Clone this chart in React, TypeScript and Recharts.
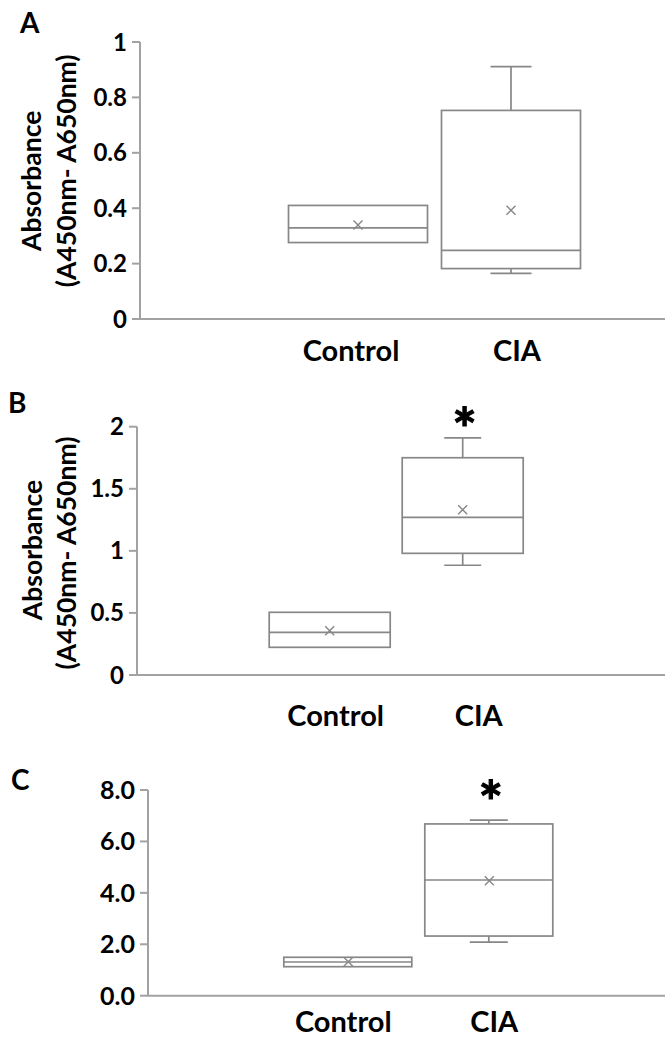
import React from 'react';
import { ComposedChart, Bar, Scatter, XAxis, YAxis } from 'recharts';

// ---------- data ----------
const categories = ['Control', 'CIA'];

// Panel A
const aMin = [0.276, 0.165];
const aQ1 = [0.276, 0.182];
const aMedian = [0.329, 0.248];
const aQ3 = [0.41, 0.753];
const aMax = [0.41, 0.911];
const aMean = [0.339, 0.393];
const aSig = ['', ''];
const aTicks = [0, 0.2, 0.4, 0.6, 0.8, 1];
const aTickLabels = ['0', '0.2', '0.4', '0.6', '0.8', '1'];

// Panel B
const bMin = [0.223, 0.884];
const bQ1 = [0.223, 0.98];
const bMedian = [0.344, 1.27];
const bQ3 = [0.505, 1.75];
const bMax = [0.505, 1.91];
const bMean = [0.357, 1.331];
const bSig = ['', '*'];
const bTicks = [0, 0.5, 1, 1.5, 2];
const bTickLabels = ['0', '0.5', '1', '1.5', '2'];

// Panel C
const cMin = [1.128, 2.08];
const cQ1 = [1.128, 2.32];
const cMedian = [1.311, 4.5];
const cQ3 = [1.494, 6.68];
const cMax = [1.494, 6.83];
const cMean = [1.32, 4.47];
const cSig = ['', '*'];
const cTicks = [0, 2, 4, 6, 8];
const cTickLabels = ['0.0', '2.0', '4.0', '6.0', '8.0'];

const yLabelLine1 = 'Absorbance';
const yLabelLine2 = '(A450nm- A650nm)';

// ---------- styles ----------
const FONT = 'Lato, "Open Sans", sans-serif';
const AXIS = '#a2a2a2';
const BOX = '#878787';

function buildRows(
  min: number[], q1: number[], med: number[], q3: number[], max: number[], mean: number[], sig: string[]
) {
  return categories.map((name, i) => ({
    name,
    min: min[i],
    q1: q1[i],
    median: med[i],
    q3: q3[i],
    max: max[i],
    mean: mean[i],
    range: [min[i], max[i]],
    sig: sig[i],
  }));
}

const BoxShape = (props: any) => {
  const { x, y, width, height, payload, capWidth, sigOffset } = props;
  if (!payload) return null;
  const top = Math.min(y, y + height);
  const h = Math.abs(height);
  const span = payload.max - payload.min;
  const toY = (v: number) => (span === 0 ? top : top + (h * (payload.max - v)) / span);
  const cx = x + width / 2;
  const yMax = toY(payload.max);
  const yQ3 = toY(payload.q3);
  const yMed = toY(payload.median);
  const yQ1 = toY(payload.q1);
  const yMin = toY(payload.min);
  return (
    <g>
      <g stroke={BOX} strokeWidth={1.7} fill="none">
        {payload.max > payload.q3 && (
          <g>
            <line x1={cx} x2={cx} y1={yMax} y2={yQ3} />
            <line x1={cx - capWidth / 2} x2={cx + capWidth / 2} y1={yMax} y2={yMax} />
          </g>
        )}
        {payload.min < payload.q1 && (
          <g>
            <line x1={cx} x2={cx} y1={yQ1} y2={yMin} />
            <line x1={cx - capWidth / 2} x2={cx + capWidth / 2} y1={yMin} y2={yMin} />
          </g>
        )}
        <rect x={x} y={yQ3} width={width} height={Math.max(0, yQ1 - yQ3)} fill="#ffffff" />
        <line x1={x} x2={x + width} y1={yMed} y2={yMed} />
      </g>
      {payload.sig ? (
        <text
          x={cx + 2}
          y={yMax - sigOffset}
          textAnchor="middle"
          fontFamily={FONT}
          fontWeight={700}
          fontSize={58}
          fill="#000"
          stroke="#000"
          strokeWidth={1}
        >
          {payload.sig}
        </text>
      ) : null}
    </g>
  );
};

const MeanShape = (props: any) => {
  const { cx, cy } = props;
  if (cx == null || cy == null) return null;
  const s = 4.5;
  return (
    <g stroke={BOX} strokeWidth={1.4}>
      <line x1={cx - s} y1={cy - s} x2={cx + s} y2={cy + s} />
      <line x1={cx - s} y1={cy + s} x2={cx + s} y2={cy - s} />
    </g>
  );
};

const CatTick = (props: any) => {
  const { x, y, payload, dy, dxs } = props;
  const idx = categories.indexOf(payload.value);
  return (
    <text
      x={x + (dxs[idx] ?? 0)}
      y={y + dy}
      textAnchor="middle"
      fontFamily={FONT}
      fontWeight={700}
      fontSize={29}
      fill="#000"
    >
      {payload.value}
    </text>
  );
};

type PanelProps = {
  top: number;
  height: number;
  rows: any[];
  ticks: number[];
  tickLabels: string[];
  yMaxV: number;
  marginTop: number;
  marginBottom: number;
  xAxisHeight: number;
  yAxisWidth: number;
  padL: number;
  padR: number;
  barSize: number;
  capWidth: number;
  catDy: number;
  catDxs: number[];
  sigOffset: number;
  tickFont: number;
  letter: string;
  letterPos: [number, number];
  yLabel?: { l1: [number, number]; l2: [number, number] };
};

function Panel(p: PanelProps) {
  return (
    <div style={{ position: 'absolute', left: 0, top: p.top, width: 665, height: p.height }}>
      <ComposedChart
        width={665}
        height={p.height}
        data={p.rows}
        margin={{ top: p.marginTop, right: 0, bottom: p.marginBottom, left: 0 }}
      >
        <XAxis
          dataKey="name"
          type="category"
          interval={0}
          height={p.xAxisHeight}
          padding={{ left: p.padL, right: p.padR }}
          axisLine={{ stroke: AXIS, strokeWidth: 2 }}
          tickLine={false}
          tickSize={0}
          tickMargin={0}
          tick={(tp: any) => <CatTick {...tp} dy={p.catDy} dxs={p.catDxs} />}
        />
        <YAxis
          type="number"
          domain={[0, p.yMaxV]}
          ticks={p.ticks}
          interval={0}
          width={p.yAxisWidth}
          tickFormatter={(v: number) => p.tickLabels[p.ticks.indexOf(v)] ?? String(v)}
          axisLine={{ stroke: AXIS, strokeWidth: 2 }}
          tickLine={{ stroke: AXIS, strokeWidth: 2 }}
          tickSize={8}
          tickMargin={5}
          tick={{ fill: '#000', fontFamily: FONT, fontWeight: 700, fontSize: p.tickFont }}
        />
        <Bar
          dataKey="range"
          barSize={p.barSize}
          isAnimationActive={false}
          shape={(bp: any) => <BoxShape {...bp} capWidth={p.capWidth} sigOffset={p.sigOffset} />}
        />
        <Scatter dataKey="mean" isAnimationActive={false} shape={(sp: any) => <MeanShape {...sp} />} />
      </ComposedChart>
      <svg
        width={665}
        height={p.height}
        style={{ position: 'absolute', left: 0, top: 0, pointerEvents: 'none' }}
      >
        <text
          x={p.letterPos[0]}
          y={p.letterPos[1]}
          fontFamily={FONT}
          fontWeight={700}
          fontSize={28}
          fill="#000"
        >
          {p.letter}
        </text>
        {p.yLabel ? (
          <g fontFamily={FONT} fontWeight={700} fontSize={26.5} fill="#000">
            <text
              x={p.yLabel.l1[0]}
              y={p.yLabel.l1[1]}
              textAnchor="middle"
              transform={`rotate(-90, ${p.yLabel.l1[0]}, ${p.yLabel.l1[1]})`}
            >
              {yLabelLine1}
            </text>
            <text
              x={p.yLabel.l2[0]}
              y={p.yLabel.l2[1]}
              textAnchor="middle"
              transform={`rotate(-90, ${p.yLabel.l2[0]}, ${p.yLabel.l2[1]})`}
            >
              {yLabelLine2}
            </text>
          </g>
        ) : null}
      </svg>
    </div>
  );
}

export default function App() {
  const rowsA = buildRows(aMin, aQ1, aMedian, aQ3, aMax, aMean, aSig);
  const rowsB = buildRows(bMin, bQ1, bMedian, bQ3, bMax, bMean, bSig);
  const rowsC = buildRows(cMin, cQ1, cMedian, cQ3, cMax, cMean, cSig);
  return (
    <div
      style={{
        position: 'absolute',
        left: 0,
        top: 0,
        width: 665,
        height: 1037,
        background: '#ffffff',
        fontFamily: FONT,
        overflow: 'hidden',
      }}
    >
      <Panel
        top={0}
        height={380}
        rows={rowsA}
        ticks={aTicks}
        tickLabels={aTickLabels}
        yMaxV={1}
        marginTop={42}
        marginBottom={11}
        xAxisHeight={50}
        yAxisWidth={140}
        padL={141.5}
        padR={77.5}
        barSize={139}
        capWidth={41}
        catDy={42}
        catDxs={[-7, 6]}
        sigOffset={20}
        tickFont={24}
        letter="A"
        letterPos={[20, 33]}
        yLabel={{ l1: [41.5, 180.8], l2: [76, 170.8] }}
      />
      <Panel
        top={380}
        height={360}
        rows={rowsB}
        ticks={bTicks}
        tickLabels={bTickLabels}
        yMaxV={2}
        marginTop={46.7}
        marginBottom={10}
        xAxisHeight={55}
        yAxisWidth={137}
        padL={126.2}
        padR={135.8}
        barSize={121}
        capWidth={37}
        catDy={51}
        catDxs={[6, 16]}
        sigOffset={-12}
        tickFont={24}
        letter="B"
        letterPos={[8, 33]}
        yLabel={{ l1: [41.5, 170], l2: [76, 173] }}
      />
      <Panel
        top={740}
        height={297}
        rows={rowsC}
        ticks={cTicks}
        tickLabels={cTickLabels}
        yMaxV={8}
        marginTop={50}
        marginBottom={6.3}
        xAxisHeight={35}
        yAxisWidth={148}
        padL={129.8}
        padR={105.2}
        barSize={128}
        capWidth={38}
        catDy={36}
        catDxs={[-5, 5]}
        sigOffset={-3}
        tickFont={25}
        letter="C"
        letterPos={[11, 50]}
      />
    </div>
  );
}
